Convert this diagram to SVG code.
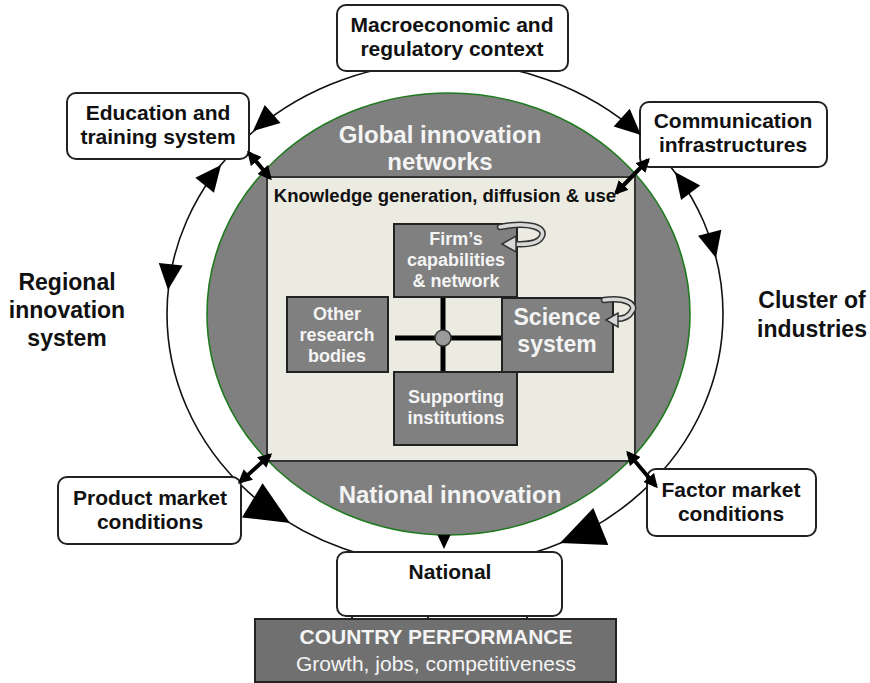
<svg xmlns="http://www.w3.org/2000/svg" xmlns:xlink="http://www.w3.org/1999/xlink" width="870" height="683" viewBox="0 0 870 683">
  <style>
    text { font-family: "Liberation Sans", Arial, sans-serif; font-weight: bold; text-anchor: middle; }
    text.regular { font-weight: normal; }
    .box { fill: #ffffff; stroke: #222222; stroke-width: 2; }
    .inner { fill: #808080; stroke: #222222; stroke-width: 2; }
    .dark { fill: #111111; font-size: 21px; }
    .light { fill: #f4f4f4; }
    .big { font-size: 23px; fill: #111111; }
    .ring { fill: none; stroke: #111111; stroke-width: 1.6; }
    .head { fill: #000000; }
    .dbl { stroke: #000000; stroke-width: 4; fill: none; marker-start: url(#dh); marker-end: url(#dh); }
    .loop-out { fill: none; stroke: #333333; stroke-width: 6.5; stroke-linecap: round; }
    .loop-in { fill: none; stroke: #d8d8d8; stroke-width: 3.5; stroke-linecap: round; }
  </style>
  <defs>
    <path id="tri" d="M0,0 L-26,-12 L-26,12 Z"/>
    <path id="bigtri" d="M0,0 L-44,-20 L-44,20 Z"/>
    <marker id="dh" viewBox="0 0 10 10" refX="8" refY="5" markerWidth="14" markerHeight="14" markerUnits="userSpaceOnUse" orient="auto-start-reverse">
      <path d="M0,0 L10,5 L0,10 Z" fill="#000"/>
    </marker>
  </defs>

  <rect width="870" height="683" fill="#ffffff"/>

  <!-- outer ring linking the surrounding factors -->
  <ellipse id="ring" class="ring" cx="445" cy="314" rx="278" ry="252"/>

  <!-- global / national innovation system disc -->
  <g id="innovation-disc">
    <ellipse cx="448.5" cy="314" rx="241.5" ry="221" fill="#808080" stroke="#1f7a1f" stroke-width="1.6"/>
    <text class="light" x="440" y="143" font-size="24">Global innovation</text>
    <text class="light" x="440" y="170" font-size="24">networks</text>
    <text class="light" x="450" y="503" font-size="24">National innovation</text>
  </g>

  <!-- knowledge panel -->
  <g id="knowledge">
    <rect x="267" y="177" width="368" height="284" fill="#ecebe1" stroke="#333333" stroke-width="2"/>
    <text x="445" y="202" font-size="18.5" fill="#111">Knowledge generation, diffusion &amp; use</text>
  </g>

  <!-- hub joining the four actors -->
  <g id="hub">
    <line x1="395" y1="338" x2="502" y2="338" stroke="#000" stroke-width="5"/>
    <line x1="443" y1="297" x2="443" y2="372" stroke="#000" stroke-width="5"/>
    <circle cx="443" cy="338" r="8" fill="#9a9a9a" stroke="#333" stroke-width="1.5"/>
  </g>

  <g id="firms">
    <rect class="inner" x="394" y="224" width="123" height="73"/>
    <text class="light" x="456" y="245" font-size="18">Firm’s</text>
    <text class="light" x="456" y="266" font-size="18">capabilities</text>
    <text class="light" x="456" y="287" font-size="18">&amp; network</text>
    <path class="loop-out" d="M500,227 C530,221 546,228 542,236 C539,243 527,245 514,244"/>
    <path class="loop-in" d="M500,227 C530,221 546,228 542,236 C539,243 527,245 514,244"/>
    <path d="M502,244 L516,236 L516,252 Z" fill="#d8d8d8" stroke="#333" stroke-width="1.5"/>
  </g>

  <g id="science">
    <rect class="inner" x="502" y="298" width="111" height="74"/>
    <text class="light" x="557" y="325" font-size="23">Science</text>
    <text class="light" x="557" y="352" font-size="23">system</text>
    <path class="loop-out" d="M604,300 C625,297 637,304 632,311 C629,317 622,319 616,319"/>
    <path class="loop-in" d="M604,300 C625,297 637,304 632,311 C629,317 622,319 616,319"/>
    <path d="M606,320 L618,313 L618,327 Z" fill="#d8d8d8" stroke="#333" stroke-width="1.5"/>
  </g>

  <g id="supporting">
    <rect class="inner" x="394" y="372" width="123" height="73"/>
    <text class="light" x="456" y="403" font-size="18">Supporting</text>
    <text class="light" x="456" y="424" font-size="18">institutions</text>
  </g>

  <g id="other-research">
    <rect class="inner" x="287" y="297" width="101" height="75"/>
    <text class="light" x="337" y="320" font-size="18">Other</text>
    <text class="light" x="337" y="341" font-size="18">research</text>
    <text class="light" x="337" y="362" font-size="18">bodies</text>
  </g>

  <!-- surrounding factor boxes -->
  <g id="macro">
    <rect class="box" x="337" y="5" width="231" height="66" rx="9"/>
    <text class="dark" x="452" y="32">Macroeconomic and</text>
    <text class="dark" x="452" y="56">regulatory context</text>
  </g>

  <g id="education">
    <rect class="box" x="67" y="93" width="182" height="66" rx="9"/>
    <text class="dark" x="158" y="120">Education and</text>
    <text class="dark" x="158" y="144">training system</text>
  </g>

  <g id="communication">
    <rect class="box" x="640" y="102" width="187" height="65" rx="9"/>
    <text class="dark" x="733" y="128">Communication</text>
    <text class="dark" x="733" y="152">infrastructures</text>
  </g>

  <g id="product-market">
    <rect class="box" x="58" y="477" width="183" height="67" rx="9"/>
    <text class="dark" x="150" y="505">Product market</text>
    <text class="dark" x="150" y="529">conditions</text>
  </g>

  <g id="factor-market">
    <rect class="box" x="647" y="469" width="169" height="67" rx="9"/>
    <text class="dark" x="731" y="497">Factor market</text>
    <text class="dark" x="731" y="521">conditions</text>
  </g>

  <g id="national">
    <rect class="box" x="337" y="552" width="225" height="64" rx="9"/>
    <text class="dark" x="450" y="579">National</text>
  </g>

  <g id="country-performance">
    <rect x="255" y="619" width="361" height="63" fill="#707070" stroke="#222" stroke-width="2"/>
    <text class="light" x="436" y="644" font-size="21">COUNTRY PERFORMANCE</text>
    <text class="light regular" x="436" y="671" font-size="21">Growth, jobs, competitiveness</text>
  </g>

  <!-- side labels -->
  <g id="regional">
    <text class="big" x="67" y="290">Regional</text>
    <text class="big" x="67" y="318">innovation</text>
    <text class="big" x="67" y="346">system</text>
  </g>
  <g id="cluster">
    <text class="big" x="812" y="308">Cluster of</text>
    <text class="big" x="812" y="337">industries</text>
  </g>

  <!-- connectors: arrowheads on the ring, two-way links and stubs -->
  <g id="connectors">
    <use xlink:href="#tri" class="head" transform="translate(253,131) rotate(139)"/>
    <use xlink:href="#tri" class="head" transform="translate(641,135) rotate(42)"/>
    <use xlink:href="#tri" class="head" transform="translate(221,165) rotate(-51)"/>
    <use xlink:href="#tri" class="head" transform="translate(168,290) rotate(96)"/>
    <use xlink:href="#tri" class="head" transform="translate(675,172) rotate(-127)"/>
    <use xlink:href="#tri" class="head" transform="translate(716,258) rotate(76)"/>
    <use xlink:href="#bigtri" class="head" transform="translate(290,523) rotate(31)"/>
    <use xlink:href="#bigtri" class="head" transform="translate(560,543) rotate(158)"/>
    <use xlink:href="#tri" class="head" transform="translate(444,549) rotate(90) scale(0.55)"/>

    <line class="dbl" x1="249" y1="153" x2="270" y2="178"/>
    <line class="dbl" x1="648" y1="160" x2="616" y2="193"/>
    <line class="dbl" x1="240" y1="482" x2="270" y2="455"/>
    <line class="dbl" x1="628" y1="453" x2="656" y2="486"/>

    <line x1="352" y1="616" x2="352" y2="619" stroke="#222" stroke-width="2"/>
    <line x1="428" y1="616" x2="428" y2="619" stroke="#222" stroke-width="2"/>
    <line x1="527" y1="616" x2="527" y2="619" stroke="#222" stroke-width="2"/>
  </g>
</svg>
